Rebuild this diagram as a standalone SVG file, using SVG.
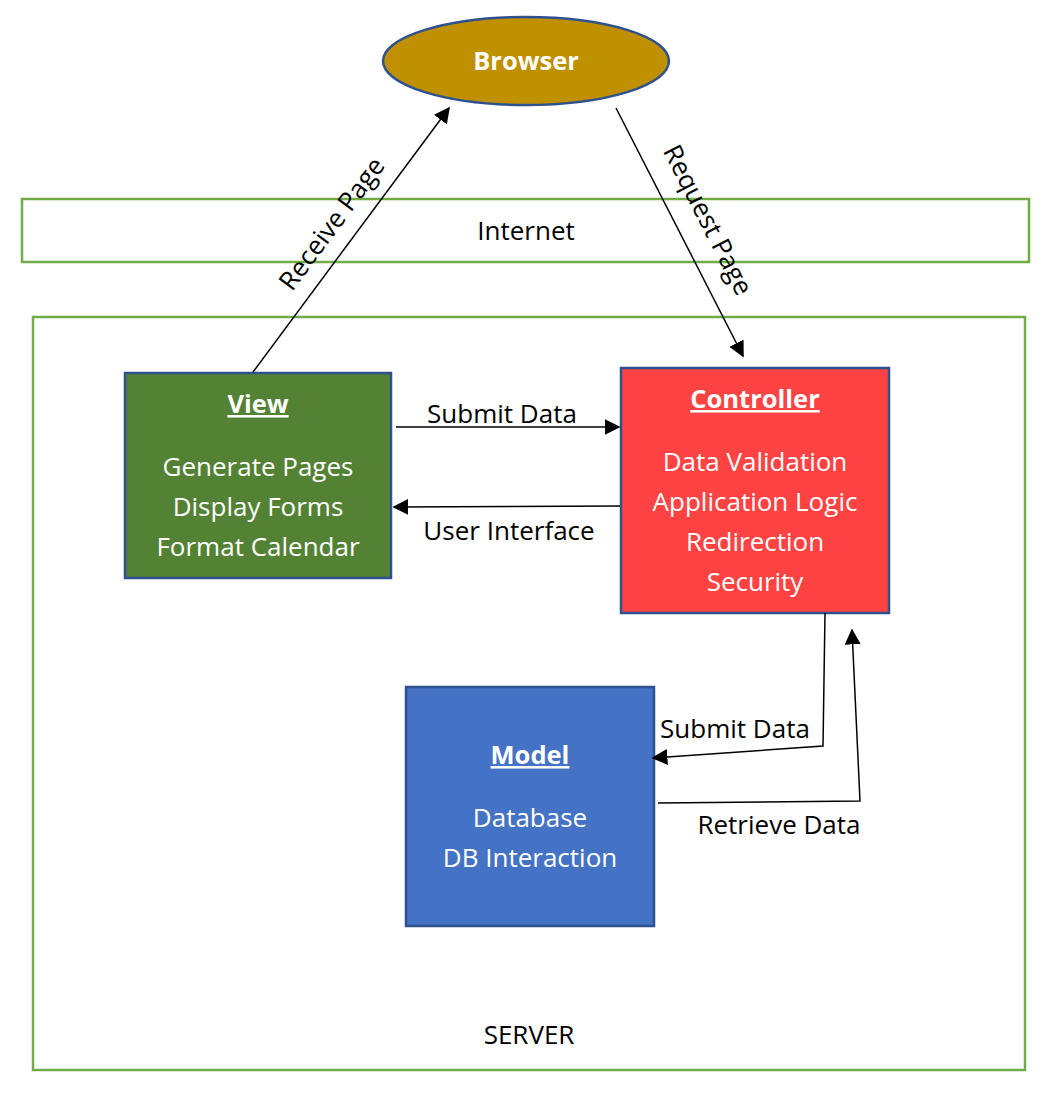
<svg xmlns="http://www.w3.org/2000/svg" width="1041" height="1093" viewBox="0 0 1041 1093">
<style>
  text { font-family: "Open Sans", "Noto Sans", sans-serif; }
  .lbl { font-size: 26px; fill: #000; text-anchor: middle; }
  .wt { font-size: 26px; fill: #fff; text-anchor: middle; }
  .ttl { font-size: 25.5px; fill: #fff; text-anchor: middle; font-weight: bold; text-decoration: underline; }
  .zone { fill: none; stroke: #70AD47; stroke-width: 2.5; }
  .box { stroke: #2F528F; stroke-width: 2.5; }
  .conn { fill: none; stroke: #000; stroke-width: 1.5; }
</style>
<defs>
  <marker id="ahb" viewBox="0 0 10 10" refX="9" refY="5" markerWidth="16" markerHeight="16" markerUnits="userSpaceOnUse" orient="auto">
    <path d="M0,0 L10,5 L0,10 z" fill="#000"/>
  </marker>
</defs>
<rect width="1041" height="1093" fill="#fff"/>

<g id="internet">
  <rect class="zone" x="22" y="199" width="1007" height="63"/>
  <text class="lbl" x="526" y="240">Internet</text>
</g>
<g id="server">
  <rect class="zone" x="33" y="317" width="992" height="753"/>
  <text class="lbl" x="529" y="1044">SERVER</text>
</g>

<g id="browser">
  <ellipse cx="526" cy="61" rx="143" ry="44" fill="#BF9000" stroke="#2F528F" stroke-width="2.5"/>
  <text x="526" y="70" font-size="25.5" font-weight="bold" fill="#fff" text-anchor="middle">Browser</text>
</g>

<g id="view">
  <rect class="box" x="125" y="373" width="266" height="205" fill="#548235"/>
  <text class="ttl" x="258" y="413">View</text>
  <text class="wt" x="258" y="476">Generate Pages</text>
  <text class="wt" x="258" y="516">Display Forms</text>
  <text class="wt" x="258" y="556">Format Calendar</text>
</g>

<g id="controller">
  <rect class="box" x="621" y="368" width="268" height="245" fill="#FF4343"/>
  <text class="ttl" x="755" y="408">Controller</text>
  <text class="wt" x="755" y="471">Data Validation</text>
  <text class="wt" x="755" y="511">Application Logic</text>
  <text class="wt" x="755" y="551">Redirection</text>
  <text class="wt" x="755" y="591">Security</text>
</g>

<g id="model">
  <rect class="box" x="406" y="687" width="248" height="239" fill="#4472C4"/>
  <text class="ttl" x="530" y="764">Model</text>
  <text class="wt" x="530" y="827">Database</text>
  <text class="wt" x="530" y="867">DB Interaction</text>
</g>

<g id="connectors">
  <line class="conn" x1="253" y1="372" x2="449" y2="108" marker-end="url(#ahb)"/>
  <text class="lbl" transform="translate(339,229) rotate(-53.4)" y="0">Receive Page</text>

  <line class="conn" x1="616" y1="108" x2="743" y2="356" marker-end="url(#ahb)"/>
  <text class="lbl" transform="translate(700,224) rotate(62.9)" y="0">Request Page</text>

  <line class="conn" x1="396" y1="427" x2="619" y2="427" marker-end="url(#ahb)"/>
  <text class="lbl" x="502" y="423">Submit Data</text>

  <line class="conn" x1="620" y1="506" x2="394" y2="507" marker-end="url(#ahb)"/>
  <text class="lbl" x="509" y="540">User Interface</text>

  <polyline class="conn" points="825,613 823,746 653,758" marker-end="url(#ahb)"/>
  <text class="lbl" x="735" y="738">Submit Data</text>

  <polyline class="conn" points="658,803 860,801 852,630" marker-end="url(#ahb)"/>
  <text class="lbl" x="779" y="834">Retrieve Data</text>
</g>
</svg>
